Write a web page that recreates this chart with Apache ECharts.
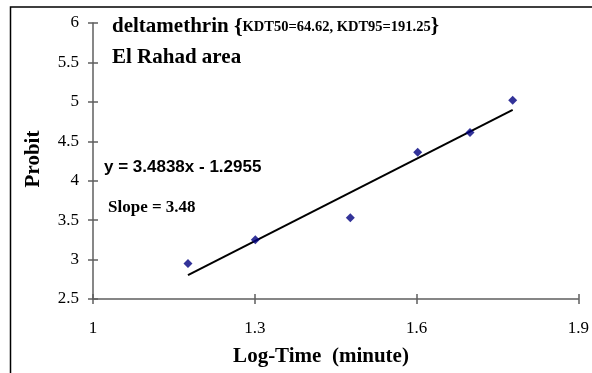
<!DOCTYPE html>
<html>
<head>
<meta charset="utf-8">
<script src="https://cdn.jsdelivr.net/npm/echarts@6/dist/echarts.min.js"></script>
<style>
  html, body { margin: 0; padding: 0; background: #fff; }
  #chart { width: 592px; height: 373px; }
</style>
</head>
<body>
<div id="chart"></div>
<script>
// Probit regression of deltamethrin knock-down against log exposure time
const logTime = [1.1761, 1.3010, 1.4771, 1.6021, 1.6990, 1.7782];
const probit = [2.95, 3.25, 3.53, 4.36, 4.61, 5.02];

// Fitted line as stated on the chart: y = 3.4838x - 1.2955
const fitSlope = 3.4838;
const fitIntercept = -1.2955;

const xTicks = [1, 1.3, 1.6, 1.9];
const yTicks = [2.5, 3, 3.5, 4, 4.5, 5, 5.5, 6];

const titleLine = 'deltamethrin';
const kdtText = 'KDT50=64.62, KDT95=191.25';
const areaText = 'El Rahad area';
const equationText = 'y = 3.4838x - 1.2955';
const slopeText = 'Slope = 3.48';
const xTitle = 'Log-Time  (minute)';
const yTitle = 'Probit';

const points = logTime.map((x, i) => [x, probit[i]]);
const xFirst = logTime[0];
const xLast = logTime[logTime.length - 1];
const fitLine = [
  [xFirst, fitSlope * xFirst + fitIntercept],
  [xLast, fitSlope * xLast + fitIntercept]
];

const serif = '"Liberation Serif", "Times New Roman", serif';
const sans = '"Liberation Sans", Arial, sans-serif';
const axisColor = '#5f5f5f';

const xMin = xTicks[0], xMax = xTicks[xTicks.length - 1];
const yMin = yTicks[0], yMax = yTicks[yTicks.length - 1];

function xAxisDef(inside, main) {
  return {
    type: 'value', position: 'bottom',
    min: xMin, max: xMax, interval: 0.3,
    axisLine: { show: main, onZero: false, lineStyle: { color: axisColor, width: 1.5 } },
    axisTick: { show: true, inside: inside, length: 5, lineStyle: { color: axisColor, width: 1.5 } },
    axisLabel: { show: main, margin: 21, color: '#000', fontFamily: serif, fontSize: 17 },
    splitLine: { show: false }
  };
}
function yAxisDef(inside, main) {
  return {
    type: 'value', position: 'left',
    min: yMin, max: yMax, interval: 0.5,
    axisLine: { show: main, onZero: false, lineStyle: { color: axisColor, width: 1.5 } },
    axisTick: { show: true, inside: inside, length: 5, lineStyle: { color: axisColor, width: 1.5 } },
    axisLabel: { show: main, margin: 14, color: '#000', fontFamily: serif, fontSize: 17 },
    splitLine: { show: false }
  };
}

const chart = echarts.init(document.getElementById('chart'), null, { renderer: 'canvas' });
chart.setOption({
  animation: false,
  backgroundColor: '#fff',
  grid: { left: 93, right: 10, top: 23, bottom: 74, containLabel: false },
  xAxis: [xAxisDef(false, true), xAxisDef(true, false)],
  yAxis: [yAxisDef(false, true), yAxisDef(true, false)],
  series: [
    {
      type: 'line',
      data: fitLine,
      showSymbol: false,
      symbol: 'none',
      lineStyle: { color: '#000', width: 2 },
      z: 2
    },
    {
      type: 'scatter',
      data: points,
      symbol: 'diamond',
      symbolSize: 9,
      itemStyle: { color: '#000080' },
      z: 3
    }
  ],
  graphic: [
    {
      type: 'rect',
      shape: { x: 10.5, y: 7, width: 700, height: 500 },
      style: { fill: 'none', stroke: '#000', lineWidth: 1.5 },
      silent: true
    },
    {
      type: 'text', x: 112, y: 38,
      style: {
        text: titleLine + ' {b|{}{c|' + kdtText + '}}',
        font: 'bold 21px ' + serif,
        fill: '#000',
        textVerticalAlign: 'bottom',
        rich: {
          b: { font: 'bold 22px ' + serif, fill: '#000', verticalAlign: 'bottom' },
          c: { font: 'bold 14.5px ' + serif, fill: '#000', verticalAlign: 'middle' }
        }
      }
    },
    {
      type: 'text', x: 112, y: 58,
      style: { text: areaText, font: 'bold 21px ' + serif, fill: '#000', textVerticalAlign: 'middle' }
    },
    {
      type: 'text', x: 104, y: 167,
      style: { text: equationText, font: 'bold 17px ' + sans, fill: '#000', textVerticalAlign: 'middle' }
    },
    {
      type: 'text', x: 108, y: 208,
      style: { text: slopeText, font: 'bold 17px ' + serif, fill: '#000', textVerticalAlign: 'middle' }
    },
    {
      type: 'text', x: 321, y: 357,
      style: { text: xTitle, font: 'bold 21px ' + serif, fill: '#000', textAlign: 'center', textVerticalAlign: 'middle' }
    },
    {
      type: 'text', x: 34, y: 159, rotation: Math.PI / 2,
      style: { text: yTitle, font: 'bold 21px ' + serif, fill: '#000', textAlign: 'center', textVerticalAlign: 'middle' }
    }
  ]
});
</script>
</body>
</html>
